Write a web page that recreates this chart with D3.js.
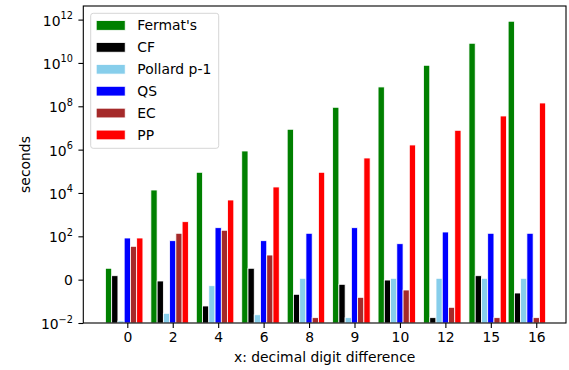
<!DOCTYPE html>
<html>
<head>
<meta charset="utf-8">
<script src="https://cdn.jsdelivr.net/npm/d3@7"></script>
<style>
  html, body { margin: 0; padding: 0; background: #fff; }
  svg { display: block; font-family: "DejaVu Sans", sans-serif; }
</style>
</head>
<body>
<svg id="chart" width="569" height="370"></svg>
<script>
// ---- data ----
const categories = ["0", "2", "4", "6", "8", "9", "10", "12", "15", "16"];
const seriesNames = ["Fermat's", "CF", "Pollard p-1", "QS", "EC", "PP"];
const fermat  = [3.35, 13700, 90000, 865000, 8.7e6, 9.0e7, 7.8e8, 7.8e9, 8.1e10, 8.4e11];
const cf      = [1.52, 0.867, 0.061, 3.35, 0.211, 0.61, 0.96, 0.0176, 1.52, 0.242];
const pollard = [0.0124, 0.028, 0.526, 0.024, 1.156, 0.0176, 1.156, 1.156, 1.156, 1.156];
const qs      = [83.6, 62.8, 250, 62.8, 138, 250, 45.6, 158, 138, 138];
const ec      = [34.6, 138, 190, 13.7, 0.0176, 0.153, 0.333, 0.053, 0.0176, 0.0176];
const pp      = [83.6, 473, 4740, 18900, 90000, 411000, 1.64e6, 7.8e6, 3.57e7, 1.42e8];
const yTickExponents = [-2, 0, 2, 4, 6, 8, 10, 12];

const seriesValues = [fermat, cf, pollard, qs, ec, pp];
const colors = ["#008000", "#000000", "#87CEEB", "#0000FF", "#A52A2A", "#FF0000"];

// ---- layout ----
const W = 569, H = 370;
const plot = { left: 83.3, right: 566, top: 6, bottom: 323 };
const fs = 13.9;
const pxPerCat = 45.44;
const firstTickPx = 127.3;

const svg = d3.select("#chart");

const x = d3.scaleLinear()
  .domain([-(firstTickPx - plot.left) / pxPerCat, (plot.right - firstTickPx) / pxPerCat])
  .range([plot.left, plot.right]);

const yTop = Math.pow(10, 12 + (19.6 - plot.top) / 21.67);
const y = d3.scaleLog().domain([1e-2, yTop]).range([plot.bottom, plot.top]);

const bw = 0.1375; // bar width in category units
const groupShift = (i) => (i === categories.length - 1 ? -bw : 0);

// bars
const gBars = svg.append("g");
seriesValues.forEach((vals, k) => {
  gBars.selectAll(null)
    .data(vals)
    .enter().append("rect")
    .attr("x", (d, i) => x(i + groupShift(i) + (k - 3.5) * bw))
    .attr("width", x(bw) - x(0))
    .attr("y", d => y(d))
    .attr("height", d => y(1e-2) - y(d))
    .attr("fill", colors[k])
    .attr("stroke", "#fff")
    .attr("stroke-width", 0.8);
});

// x axis
const xAxis = d3.axisBottom(x)
  .tickValues(d3.range(categories.length))
  .tickFormat(i => categories[i])
  .tickSize(4.9)
  .tickPadding(4.5);
const gx = svg.append("g").attr("transform", `translate(0,${plot.bottom})`).call(xAxis);
gx.select(".domain").remove();
gx.selectAll(".tick line").attr("stroke", "#000").attr("stroke-width", 1.1);
gx.selectAll(".tick text").attr("font-size", fs).attr("fill", "#000")
  .attr("font-family", "DejaVu Sans");

// y axis
const yAxis = d3.axisLeft(y)
  .tickValues(yTickExponents.map(e => Math.pow(10, e)))
  .tickFormat("")
  .tickSize(4.9);
const gy = svg.append("g").attr("transform", `translate(${plot.left},0)`).call(yAxis);
gy.select(".domain").remove();
gy.selectAll(".tick line").attr("stroke", "#000").attr("stroke-width", 1.1);

const yLab = svg.append("g");
yTickExponents.forEach(e => {
  const ty = y(Math.pow(10, e));
  const t = yLab.append("text")
    .attr("x", plot.left - 4.9 - 5.5)
    .attr("text-anchor", "end")
    .attr("font-size", fs)
    .attr("fill", "#000");
  if (e === 0) {
    t.attr("y", ty + 5).text("0");
  } else {
    t.attr("y", ty + 6);
    t.append("tspan").text("10");
    t.append("tspan").attr("dy", -6.5).attr("font-size", fs * 0.7)
      .text(e < 0 ? "\u2212" + (-e) : String(e));
  }
});

// frame
svg.append("rect")
  .attr("x", plot.left).attr("y", plot.top)
  .attr("width", plot.right - plot.left).attr("height", plot.bottom - plot.top)
  .attr("fill", "none").attr("stroke", "#000").attr("stroke-width", 1.1);

// axis labels
svg.append("text")
  .attr("x", (plot.left + plot.right) / 2).attr("y", 362)
  .attr("text-anchor", "middle").attr("font-size", fs).attr("fill", "#000")
  .text("x: decimal digit difference");
svg.append("text")
  .attr("transform", `translate(29.5,${(plot.top + plot.bottom) / 2}) rotate(-90)`)
  .attr("text-anchor", "middle").attr("font-size", fs).attr("fill", "#000")
  .text("seconds");

// legend
const lg = svg.append("g");
lg.append("rect")
  .attr("x", 90.7).attr("y", 13.3).attr("width", 128).attr("height", 135)
  .attr("rx", 2.5).attr("fill", "#fff").attr("fill-opacity", 0.8)
  .attr("stroke", "#d6d6d6").attr("stroke-width", 1);
seriesNames.forEach((name, k) => {
  const cy = 25.4 + k * 21.9;
  lg.append("rect")
    .attr("x", 96.2).attr("y", cy - 4.8).attr("width", 29).attr("height", 9.7)
    .attr("fill", colors[k]).attr("stroke", "#fff").attr("stroke-width", 0.8);
  lg.append("text")
    .attr("x", 137.3).attr("y", cy + 5)
    .attr("font-size", fs).attr("fill", "#000")
    .text(name);
});
</script>
</body>
</html>
